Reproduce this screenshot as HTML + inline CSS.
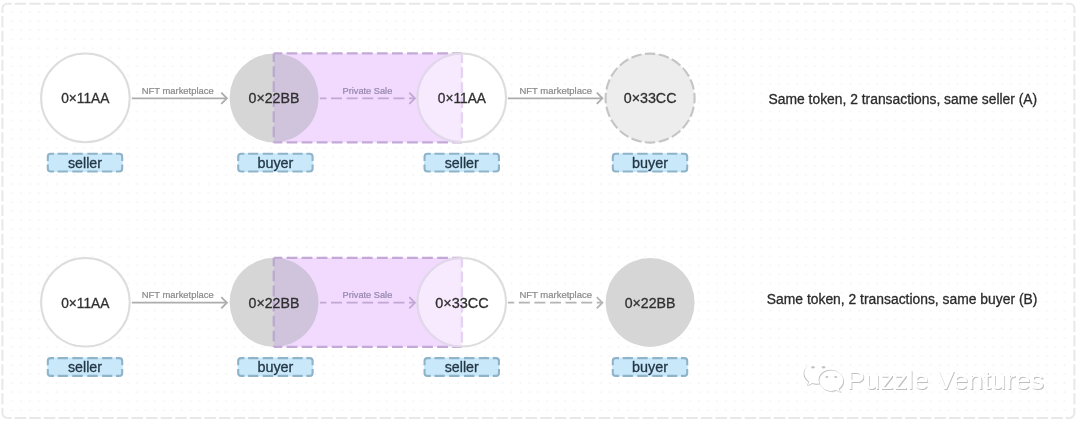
<!DOCTYPE html>
<html>
<head>
<meta charset="utf-8">
<style>
html,body{margin:0;padding:0;background:#fff;}
body{width:1080px;height:425px;overflow:hidden;font-family:"Liberation Sans",sans-serif;}
svg{display:block;will-change:transform;}
text{font-family:"Liberation Sans",sans-serif;}
.addr{font-size:14px;fill:#303030;text-anchor:middle;stroke:#303030;stroke-width:0.3px;}
.lbl{font-size:14px;fill:#243746;text-anchor:middle;stroke:#243746;stroke-width:0.3px;}
.arr{font-size:9px;fill:#8a8a8a;text-anchor:middle;stroke:#8a8a8a;stroke-width:0.2px;}
.arrp{font-size:9px;fill:#9686ad;text-anchor:middle;stroke:#9686ad;stroke-width:0.2px;}
.wm{font-size:26px;}
.cap{font-size:13.8px;fill:#2b2b2b;stroke:#2b2b2b;stroke-width:0.3px;}
</style>
</head>
<body>
<svg width="1080" height="425" viewBox="0 0 1080 425">
<defs>
<pattern id="dots" x="6.53" y="7.47" width="8.92" height="9.05" patternUnits="userSpaceOnUse">
<rect x="4.6" y="3.7" width="1.8" height="1.8" fill="#f5f5f5"/>
</pattern>
<clipPath id="clipR"><rect x="273.8" y="53.4" width="188.09999999999997" height="89.0"/></clipPath>
<g id="tag">
<rect x="-37.7" y="-9.4" width="75.4" height="18.8" rx="3" fill="#c9e9fb"/>
<path d="M-37.2,-1.7V-5.9Q-37.2,-8.9 -34.2,-8.9H-31 M-27.3,-8.9H-17.1M-12.7,-8.9H-2.3M2.3,-8.9H12.7M17.1,-8.9H27.3 M31,-8.9H34.2Q37.2,-8.9 37.2,-5.9V-1.7 M37.2,1.9V5.9Q37.2,8.9 34.2,8.9H31 M27.3,8.9H17.1M12.7,8.9H2.3M-2.3,8.9H-12.7M-17.1,8.9H-27.3 M-31,8.9H-34.2Q-37.2,8.9 -37.2,5.9V1.9" fill="none" stroke="#8fb3c8" stroke-width="2.1"/>
</g>
</defs>
<rect x="0" y="0" width="1080" height="425" fill="#fff"/>
<rect x="8" y="8" width="1062" height="406" fill="url(#dots)"/>
<g fill="none" stroke="#e8e8e8" stroke-width="2">
<path d="M7.4 3.7H1069.4M7.4 417.9H1069.4" stroke-dasharray="11.4 3.2" stroke-dashoffset="7.3"/>
<path d="M2.4 8.7V412.9M1074.4 8.7V412.9" stroke-dasharray="11.3 3.2" stroke-dashoffset="7"/>
<path d="M2.4 8.7A5 5 0 0 1 7.4 3.7M1069.4 3.7A5 5 0 0 1 1074.4 8.7M1074.4 412.9A5 5 0 0 1 1069.4 417.9M7.4 417.9A5 5 0 0 1 2.4 412.9"/>
</g>
<g transform="translate(0,0)">
<circle cx="85.4" cy="97.9" r="44.3" fill="#fff" stroke="#dddddd" stroke-width="2"/>
<text class="addr" x="85.30000000000001" y="103.4" textLength="48.2" lengthAdjust="spacingAndGlyphs">0×11AA</text>
<path d="M131.8 98.3H226.5" stroke="#adadad" stroke-width="1.7" fill="none"/><path d="M221.3 92.7L226.9 98.3L221.3 103.89999999999999" stroke="#adadad" stroke-width="1.8" fill="none" stroke-linejoin="miter"/>
<text class="arr" x="177.7" y="93.8" textLength="72" lengthAdjust="spacingAndGlyphs">NFT marketplace</text>
<circle cx="274.1" cy="97.9" r="44.5" fill="#d6d6d6"/>
<rect x="273.8" y="53.4" width="188.09999999999997" height="89.0" fill="#f1dafe"/>
<g clip-path="url(#clipR)"><circle cx="274.1" cy="97.9" r="44.5" fill="#d0c4dc"/></g>
<path d="M273.8 53.4H461.9" stroke="#c3a9d7" stroke-width="2.3" fill="none" stroke-dasharray="10.8 4.26" stroke-dashoffset="2.3"/>
<path d="M273.8 142.4H461.9" stroke="#c3a9d7" stroke-width="2.3" fill="none" stroke-dasharray="10.8 4.26" stroke-dashoffset="2.3"/>
<path d="M273.8 53.4V142.4" stroke="#bcabd0" stroke-width="2.4" fill="none" stroke-dasharray="10.8 4.26" stroke-dashoffset="2.3"/>
<text class="addr" x="274.0" y="103.4" textLength="50.8" lengthAdjust="spacingAndGlyphs">0×22BB</text>
<path d="M320 98.3H414.5" stroke="#c2a6d4" stroke-width="1.7" fill="none" stroke-dasharray="11 4.6" stroke-dashoffset="4.6"/><path d="M409.3 92.7L414.90000000000003 98.3L409.3 103.89999999999999" stroke="#c2a6d4" stroke-width="1.8" fill="none" stroke-linejoin="miter"/>
<text class="arrp" x="367.4" y="93.8" textLength="49.8" lengthAdjust="spacingAndGlyphs">Private Sale</text>
<circle cx="461.7" cy="97.9" r="44.3" fill="#fff"/>
<g clip-path="url(#clipR)"><circle cx="461.7" cy="97.9" r="44.3" fill="#f7eafe"/></g>
<path d="M461.9 54.4V141.4" stroke="#e5d3f1" stroke-width="2.4" fill="none" stroke-dasharray="10.8 4.26" stroke-dashoffset="2.3"/>
<circle cx="461.7" cy="97.9" r="44.3" fill="none" stroke="#dddddd" stroke-width="2"/>
<g clip-path="url(#clipR)"><circle cx="461.7" cy="97.9" r="44.3" fill="none" stroke="#e3d7ed" stroke-width="2"/></g>
<text class="addr" x="461.9" y="103.4" textLength="48.2" lengthAdjust="spacingAndGlyphs">0×11AA</text>
<path d="M507.8 98.3H602.0" stroke="#adadad" stroke-width="1.7" fill="none"/><path d="M596.8 92.7L602.4 98.3L596.8 103.89999999999999" stroke="#adadad" stroke-width="1.8" fill="none" stroke-linejoin="miter"/>
<text class="arr" x="555.7" y="93.8" textLength="72.6" lengthAdjust="spacingAndGlyphs">NFT marketplace</text>
<circle cx="650.1" cy="98.10000000000001" r="44.5" fill="#ededed" stroke="#c5c5c5" stroke-width="2.1" pathLength="200" stroke-dasharray="7.5 2.5" stroke-dashoffset="3.75"/>
<text class="addr" x="650.1" y="103.4" textLength="52.8" lengthAdjust="spacingAndGlyphs">0×33CC</text>
<use href="#tag" x="85" y="162.6"/>
<text class="lbl" x="85" y="167.5" textLength="34" lengthAdjust="spacingAndGlyphs">seller</text>
<use href="#tag" x="275.4" y="162.6"/>
<text class="lbl" x="275.4" y="167.5" textLength="36" lengthAdjust="spacingAndGlyphs">buyer</text>
<use href="#tag" x="461.75" y="162.6"/>
<text class="lbl" x="461.75" y="167.5" textLength="34" lengthAdjust="spacingAndGlyphs">seller</text>
<use href="#tag" x="650" y="162.6"/>
<text class="lbl" x="650" y="167.5" textLength="36" lengthAdjust="spacingAndGlyphs">buyer</text>
</g>
<text class="cap" x="768.6" y="103.6" textLength="268.6" lengthAdjust="spacingAndGlyphs">Same token, 2 transactions, same seller (A)</text>
<g transform="translate(0,204.4)">
<circle cx="85.4" cy="97.9" r="44.3" fill="#fff" stroke="#dddddd" stroke-width="2"/>
<text class="addr" x="85.30000000000001" y="103.4" textLength="48.2" lengthAdjust="spacingAndGlyphs">0×11AA</text>
<path d="M131.8 98.3H226.5" stroke="#adadad" stroke-width="1.7" fill="none"/><path d="M221.3 92.7L226.9 98.3L221.3 103.89999999999999" stroke="#adadad" stroke-width="1.8" fill="none" stroke-linejoin="miter"/>
<text class="arr" x="177.7" y="93.8" textLength="72" lengthAdjust="spacingAndGlyphs">NFT marketplace</text>
<circle cx="274.1" cy="97.9" r="44.5" fill="#d6d6d6"/>
<rect x="273.8" y="53.4" width="188.09999999999997" height="89.0" fill="#f1dafe"/>
<g clip-path="url(#clipR)"><circle cx="274.1" cy="97.9" r="44.5" fill="#d0c4dc"/></g>
<path d="M273.8 53.4H461.9" stroke="#c3a9d7" stroke-width="2.3" fill="none" stroke-dasharray="10.8 4.26" stroke-dashoffset="2.3"/>
<path d="M273.8 142.4H461.9" stroke="#c3a9d7" stroke-width="2.3" fill="none" stroke-dasharray="10.8 4.26" stroke-dashoffset="2.3"/>
<path d="M273.8 53.4V142.4" stroke="#bcabd0" stroke-width="2.4" fill="none" stroke-dasharray="10.8 4.26" stroke-dashoffset="2.3"/>
<text class="addr" x="274.0" y="103.4" textLength="50.8" lengthAdjust="spacingAndGlyphs">0×22BB</text>
<path d="M320 98.3H414.5" stroke="#c2a6d4" stroke-width="1.7" fill="none" stroke-dasharray="11 4.6" stroke-dashoffset="4.6"/><path d="M409.3 92.7L414.90000000000003 98.3L409.3 103.89999999999999" stroke="#c2a6d4" stroke-width="1.8" fill="none" stroke-linejoin="miter"/>
<text class="arrp" x="367.4" y="93.8" textLength="49.8" lengthAdjust="spacingAndGlyphs">Private Sale</text>
<circle cx="461.7" cy="97.9" r="44.3" fill="#fff"/>
<g clip-path="url(#clipR)"><circle cx="461.7" cy="97.9" r="44.3" fill="#f7eafe"/></g>
<path d="M461.9 54.4V141.4" stroke="#e5d3f1" stroke-width="2.4" fill="none" stroke-dasharray="10.8 4.26" stroke-dashoffset="2.3"/>
<circle cx="461.7" cy="97.9" r="44.3" fill="none" stroke="#dddddd" stroke-width="2"/>
<g clip-path="url(#clipR)"><circle cx="461.7" cy="97.9" r="44.3" fill="none" stroke="#e3d7ed" stroke-width="2"/></g>
<text class="addr" x="461.9" y="103.4" textLength="53.4" lengthAdjust="spacingAndGlyphs">0×33CC</text>
<path d="M507.8 98.3H602.0" stroke="#b4b4b4" stroke-width="1.7" fill="none" stroke-dasharray="11 4.6" stroke-dashoffset="4.6"/><path d="M596.8 92.7L602.4 98.3L596.8 103.89999999999999" stroke="#b4b4b4" stroke-width="1.8" fill="none" stroke-linejoin="miter"/>
<text class="arr" x="555.7" y="93.8" textLength="72.6" lengthAdjust="spacingAndGlyphs">NFT marketplace</text>
<circle cx="650.1" cy="98.10000000000001" r="44.5" fill="#d6d6d6"/>
<text class="addr" x="650.1" y="103.4" textLength="50.8" lengthAdjust="spacingAndGlyphs">0×22BB</text>
<use href="#tag" x="85" y="162.6"/>
<text class="lbl" x="85" y="167.5" textLength="34" lengthAdjust="spacingAndGlyphs">seller</text>
<use href="#tag" x="275.4" y="162.6"/>
<text class="lbl" x="275.4" y="167.5" textLength="36" lengthAdjust="spacingAndGlyphs">buyer</text>
<use href="#tag" x="461.75" y="162.6"/>
<text class="lbl" x="461.75" y="167.5" textLength="34" lengthAdjust="spacingAndGlyphs">seller</text>
<use href="#tag" x="650" y="162.6"/>
<text class="lbl" x="650" y="167.5" textLength="36" lengthAdjust="spacingAndGlyphs">buyer</text>
</g>
<text class="cap" x="766.8" y="303.8" textLength="270.6" lengthAdjust="spacingAndGlyphs">Same token, 2 transactions, same buyer (B)</text>
<g id="wm">
<!-- wechat icon -->
<g fill="#fff" stroke="none">
<path d="M817 362.3c-7 0-12.6 4.8-12.6 10.8 0 3.4 1.8 6.4 4.7 8.4l-1.3 3.9 4.6-2.3c1.4 .4 2.9 .7 4.6 .7 7 0 12.6-4.8 12.6-10.7S824 362.3 817 362.3z" transform="translate(0.2,0.9)" fill="#cccccc"/>
<path d="M817 362.3c-7 0-12.6 4.8-12.6 10.8 0 3.4 1.8 6.4 4.7 8.4l-1.3 3.9 4.6-2.3c1.4 .4 2.9 .7 4.6 .7 7 0 12.6-4.8 12.6-10.7S824 362.3 817 362.3z" transform="translate(-0.8,0.6)" fill="#c2c2c2"/>
<path d="M817 362.3c-7 0-12.6 4.8-12.6 10.8 0 3.4 1.8 6.4 4.7 8.4l-1.3 3.9 4.6-2.3c1.4 .4 2.9 .7 4.6 .7 7 0 12.6-4.8 12.6-10.7S824 362.3 817 362.3z"/>
<path d="M831.3 370.6c6.600 0 11.900 4.500 11.900 10.200 0 3.100-1.700 5.900-4.300 7.800l1.100 3.600-4.200-2.100c-1.400 .5-2.900 .8-4.500 .8-6.600 0-11.900-4.500-11.900-10.100S824.700 370.600 831.300 370.600z" transform="translate(0.9,0.9)" fill="#c2c2c2"/>
<path d="M831.3 370.6c6.600 0 11.900 4.500 11.900 10.200 0 3.100-1.700 5.900-4.300 7.800l1.100 3.600-4.200-2.100c-1.400 .5-2.900 .8-4.500 .8-6.600 0-11.900-4.500-11.900-10.100S824.700 370.600 831.300 370.600z" transform="translate(-0.8,-0.8)" fill="#bfbfbf"/>
<path d="M831.3 370.6c6.600 0 11.900 4.500 11.900 10.200 0 3.100-1.700 5.900-4.300 7.800l1.100 3.600-4.200-2.100c-1.400 .5-2.900 .8-4.500 .8-6.600 0-11.900-4.500-11.900-10.100S824.700 370.600 831.300 370.600z"/>
</g>
<g fill="#c4c4c4">
<ellipse cx="813" cy="367.3" rx="1.7" ry="1.2"/><ellipse cx="823.6" cy="367.3" rx="1.7" ry="1.2"/>
<ellipse cx="826.9" cy="377" rx="1.5" ry="1.1"/><ellipse cx="835.7" cy="377" rx="1.5" ry="1.1"/>
</g>
<text x="847.6" y="389.8" class="wm" fill="#bebebe" textLength="197.3" lengthAdjust="spacingAndGlyphs">Puzzle Ventures</text>
<text x="846.7" y="388.9" class="wm" fill="#fff" textLength="197.3" lengthAdjust="spacingAndGlyphs">Puzzle Ventures</text>
</g>
</svg>
</body>
</html>
